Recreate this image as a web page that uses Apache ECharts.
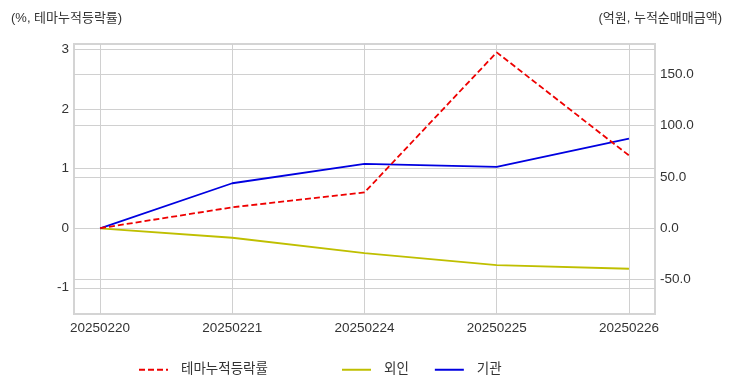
<!DOCTYPE html>
<html><head><meta charset="utf-8">
<script src="https://cdn.jsdelivr.net/npm/echarts@6/dist/echarts.min.js"></script>
<style>html,body{margin:0;padding:0;background:#fff}#c{width:732px;height:392px}</style>
</head><body><div id="c"></div>
<script>
const categories = ['20250220','20250221','20250224','20250225','20250226'];
const themeReturn = [0, 0.35, 0.60, 2.95, 1.22];
const foreignNet = [0, -9.2, -24.1, -35.8, -39.4];
const instNet = [0, 43.9, 62.7, 59.8, 87.3];
const leftTicks = [-1, 0, 1, 2, 3];
const rightTicks = [-50, 0, 50, 100, 150];
const xTicks = [0, 1, 2, 3, 4];

const FONT = "'Liberation Sans','Noto Sans CJK KR',sans-serif";
const chart = echarts.init(document.getElementById('c'), null, {renderer:'canvas'});
const pair = arr => arr.map((v,i)=>[i,v]);
const legendText = {fontSize:13.5, color:'#333', fontFamily:FONT, padding:[0,0,0,8]};
chart.setOption({
  animation:false,
  backgroundColor:'#fff',
  textStyle:{fontFamily:FONT},
  title:[
    {text:'(%, 테마누적등락률)', left:6, top:7, textStyle:{fontSize:13, fontWeight:'normal', color:'#333', fontFamily:FONT}},
    {text:'(억원, 누적순매매금액)', right:5, top:7, textStyle:{fontSize:13, fontWeight:'normal', color:'#333', fontFamily:FONT}}
  ],
  grid:{left:74, right:77, top:44, bottom:78, show:true, borderColor:'#d4d4d4', borderWidth:2, backgroundColor:'transparent'},
  legend:[
    {data:['테마누적등락률'], left:133, top:358, itemWidth:29, itemHeight:14, itemGap:25,
     itemStyle:{opacity:0}, textStyle:legendText},
    {data:['외인','기관'], left:336, top:358, itemWidth:29, itemHeight:14, itemGap:25,
     itemStyle:{opacity:0}, textStyle:legendText}
  ],
  xAxis:{type:'value', min:-0.197, max:4.197,
    axisLine:{show:false}, axisTick:{show:false, customValues:xTicks},
    axisLabel:{customValues:xTicks, formatter:v=>categories[Math.round(v)], fontSize:13.5, color:'#333', margin:8, fontFamily:FONT},
    splitLine:{show:true, lineStyle:{color:'#d0d0d0', width:1}}},
  yAxis:[
    {type:'value', min:-1.44, max:3.09, position:'left',
     axisLine:{show:false}, axisTick:{show:false, customValues:leftTicks},
     axisLabel:{customValues:leftTicks, fontSize:13.5, color:'#333', margin:5, fontFamily:FONT, formatter:v=>String(v)},
     splitLine:{show:true, lineStyle:{color:'#d0d0d0', width:1}}},
    {type:'value', min:-83.5, max:179.6, position:'right',
     axisLine:{show:false}, axisTick:{show:false, customValues:rightTicks},
     axisLabel:{customValues:rightTicks, fontSize:13.5, color:'#333', margin:5, fontFamily:FONT, formatter:v=>v.toFixed(1)},
     splitLine:{show:true, lineStyle:{color:'#d0d0d0', width:1}}}
  ],
  series:[
    {name:'테마누적등락률', type:'line', yAxisIndex:0, data:pair(themeReturn), symbol:'none',
     lineStyle:{color:'#ee0000', width:1.8, type:[6,3]}, itemStyle:{color:'#ee0000'}, z:3},
    {name:'외인', type:'line', yAxisIndex:1, data:pair(foreignNet), symbol:'none',
     lineStyle:{color:'#bfbf00', width:1.8}, itemStyle:{color:'#bfbf00'}, z:2},
    {name:'기관', type:'line', yAxisIndex:1, data:pair(instNet), symbol:'none',
     lineStyle:{color:'#0000e0', width:1.8}, itemStyle:{color:'#0000e0'}, z:2}
  ]
});
</script></body></html>
